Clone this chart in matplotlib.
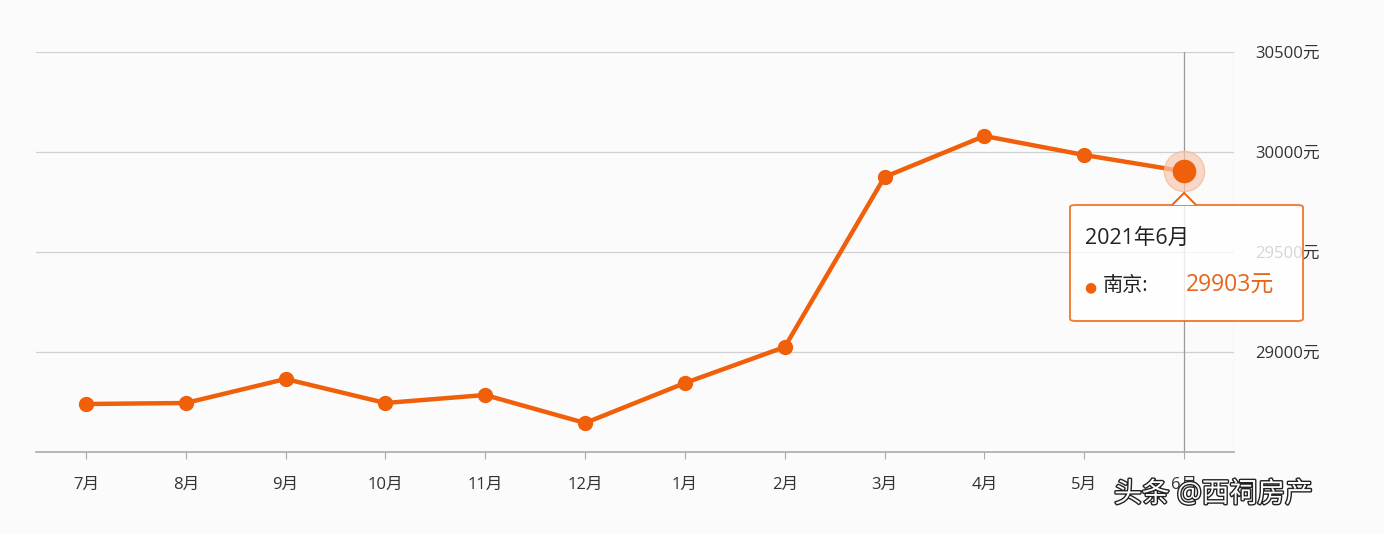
import numpy as np
import matplotlib
matplotlib.use('Agg')
import matplotlib.pyplot as plt
from matplotlib.patches import FancyBboxPatch, Polygon
import matplotlib.patheffects as pe

plt.rcParams['font.family'] = ['Open Sans', 'Noto Sans CJK SC', 'DejaVu Sans']

# 数据
months = ['7月', '8月', '9月', '10月', '11月', '12月',
          '1月', '2月', '3月', '4月', '5月', '6月']
prices = [28740, 28745, 28865, 28745, 28785, 28645,
          28845, 29025, 29875, 30080, 29985, 29903]
y_ticks = [29000, 29500, 30000, 30500]
tip_title = '2021年6月'
tip_city = '南京:'

LINE = '#f05f0a'
TEXT = '#333333'

fig = plt.figure(figsize=(13.84, 5.34), dpi=100, facecolor='#fbfbfb')
ax = fig.add_axes([36 / 1384, 82 / 534, 1198 / 1384, 400 / 534])
ax.set_facecolor('#fbfbfb')

x = np.arange(len(months))
ax.set_xlim(-0.5, len(months) - 0.5)
ax.set_ylim(28500, 30500)

# 网格
for v in y_ticks:
    ax.axhline(v, color='#d0d0d0', lw=0.9, zorder=1)
ax.axvline(len(months) - 0.5, color='#d0d0d0', lw=0.9, zorder=1)
# 十字准线
ax.axvline(x[-1], color='#9a9a9a', lw=0.9, zorder=1)

for s in ['top', 'left', 'right']:
    ax.spines[s].set_visible(False)
ax.spines['bottom'].set_color('#aaaaaa')
ax.spines['bottom'].set_linewidth(1.2)

ax.plot(x, prices, color=LINE, lw=3.2, marker='o', markersize=10,
        solid_capstyle='round', zorder=3)
# 高亮最后一点
ax.plot(x[-1], prices[-1], 'o', color='#f8c9b0', markersize=29, alpha=0.7,
        markeredgecolor='#f3b89a', markeredgewidth=1, zorder=4)
ax.plot(x[-1], prices[-1], 'o', color=LINE, markersize=16, zorder=5)

ax.set_xticks(x)
ax.set_xticklabels(months, fontsize=12, color=TEXT)
ax.tick_params(axis='x', length=5, color='#aaaaaa', pad=13)
ax.yaxis.tick_right()
ax.set_yticks(y_ticks)
ax.set_yticklabels([f'{v}元' for v in y_ticks], fontsize=12, color=TEXT)
ax.tick_params(axis='y', length=0, pad=15)

# 提示框
trans = ax.transData
px = fig.transFigure.inverted()
def fig_xy(xd, yd):
    return px.transform(trans.transform((xd, yd)))

bx0, by0 = 1070 / 1384, 1 - 321 / 534
bw, bh = 233 / 1384, 116 / 534
box = FancyBboxPatch((bx0, by0), bw, bh, boxstyle='round,pad=0,rounding_size=0.004',
                     transform=fig.transFigure, facecolor='white', alpha=0.8,
                     edgecolor=LINE, lw=1.4, zorder=10)
fig.patches.append(box)
cx = fig_xy(x[-1], prices[-1])[0]
tri = Polygon([[cx - 12 / 1384, by0 + bh], [cx, by0 + bh + 12 / 534],
               [cx + 12 / 1384, by0 + bh]], closed=False, transform=fig.transFigure,
              facecolor='white', edgecolor=LINE, lw=1.4, zorder=11)
fig.patches.append(tri)
fig.text(1085 / 1384, 1 - 238 / 534, tip_title, fontsize=15.5, color='#222222',
         va='center', ha='left', zorder=12)
fig.text(1090 / 1384, 1 - 287 / 534, '●', fontsize=10, color=LINE,
         va='center', ha='center', family='DejaVu Sans', zorder=12)
fig.text(1103 / 1384, 1 - 286 / 534, tip_city, fontsize=14.5, color='#222222',
         va='center', ha='left', zorder=12)
fig.text(1186 / 1384, 1 - 286 / 534, f'{prices[-1]}元', fontsize=16.5, color='#e8641c',
         va='center', ha='left', zorder=12)

# 水印
fig.text(1114 / 1384, 1 - 495 / 534, '头条 @西祠房产', fontsize=20, color='white',
         va='center', ha='left', zorder=13,
         path_effects=[pe.withStroke(linewidth=2, foreground='#222222')])

fig.savefig('out.png', dpi=100, facecolor=fig.get_facecolor())
